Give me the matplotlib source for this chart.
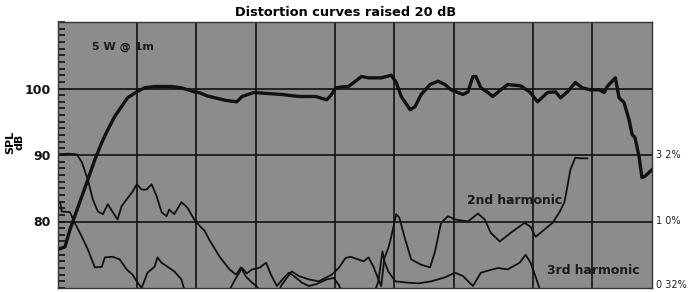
import matplotlib
matplotlib.use("Agg")
import matplotlib.pyplot as plt
import matplotlib.ticker as ticker
import matplotlib.transforms as mtransforms

# ---------------------------------------------------------------------------
# Data (frequency in Hz, level in dB)
# ---------------------------------------------------------------------------
SPL_F = [20, 21.7, 23, 24.3, 26.4, 28.3, 30.7, 33.3, 35.7, 38.7, 41.9, 44.9,
         50, 54.7, 61.5, 74.8, 84, 97.5, 103, 113, 141, 160, 170, 195, 270,
         329, 400, 455, 482, 505, 566, 586, 636, 682, 740, 858, 964, 1022,
         1083, 1202, 1273, 1365, 1514, 1662, 1801, 1932, 2220, 2352, 2492,
         2580, 2734, 2964, 3140, 3446, 3734, 4344, 4820, 5286, 5932, 6516,
         6900, 7480, 8200, 8900, 9750, 10820, 11480, 11880, 12580, 13060,
         13640, 14440, 15320, 15860, 16420, 17200, 17800, 18440, 20000]
SPL_DB = [75.8, 76.2, 78.8, 80.8, 83.8, 86.3, 89.3, 91.9, 93.8, 95.8, 97.3, 98.6,
          99.5, 100.1, 100.3, 100.3, 100.1, 99.5, 99.4, 98.9, 98.2, 98.0, 98.8, 99.4, 99.1,
          98.8, 98.8, 98.3, 99.1, 100.1, 100.3, 100.3, 101.1, 101.8, 101.6, 101.6, 102.0, 100.9,
          98.8, 96.8, 97.3, 99.1, 100.6, 101.1, 100.6, 99.8, 99.1, 99.5, 101.8,
          101.8, 100.1, 99.4, 98.8, 99.8, 100.6, 100.4, 99.5, 98.0, 99.4, 99.5,
          98.6, 99.5, 100.9, 100.1, 99.8, 99.8, 99.4, 100.3, 101.1, 101.6,
          98.6, 97.9, 95.3, 93.1, 92.6, 89.8, 86.6, 86.8, 87.8]

H2_F = [20, 22.5, 24.9, 26.4, 28.3, 30, 31.8, 33.7, 35.7, 37.8, 40, 41.9, 44.4,
        47.6, 50, 52.9, 56, 59.4, 63, 66.7, 70.7, 72.9, 77.3, 84, 90, 97.5,
        105, 110, 116, 131, 147, 158.6, 168, 178, 191, 202, 219, 255, 270,
        303, 329, 369, 414, 482, 523, 566, 600, 658, 698, 740, 784, 830, 858,
        890, 932, 964, 1022, 1058, 1134, 1216, 1365, 1514, 1604, 1720, 1866,
        2023, 2352, 2640, 2860, 3066, 3406, 3868, 4548, 4874, 5166, 5470,
        6292, 6820, 7220, 7480, 7740, 8200, 8700, 9420]
H2_DB = [90.1, 90.2, 90.1, 88.9, 86.3, 83.3, 81.5, 81.1, 82.6, 81.4, 80.3, 82.3, 83.3,
         84.5, 85.6, 84.8, 84.8, 85.6, 83.8, 81.4, 80.8, 81.8, 81.1, 82.9, 82.1, 80.3,
         79.2, 78.6, 77.3, 74.7, 72.8, 72.0, 73.1, 71.7, 70.8, 70.2, 69.0, 69.0, 70.5,
         72.5, 71.8, 71.3, 71.0, 72.0, 73.0, 74.5, 74.7, 74.3, 74.0, 74.6, 73.2, 71.3, 70.3,
         74.5, 76.0, 77.7, 81.1, 80.6, 77.3, 74.3, 73.5, 73.1, 75.5, 79.8, 80.8,
         80.3, 80.0, 81.2, 80.3, 78.3, 77.0, 78.3, 79.8, 79.2, 77.7, 78.3,
         79.8, 81.4, 82.9, 85.3, 87.8, 89.6, 89.5, 89.5]

H3_F = [20.5, 20.9, 23, 24.3, 26.4, 28.3, 30.7, 33.3, 34.5, 37.8, 41, 44.4, 47.6,
        50.5, 52.9, 56.6, 61.5, 63.6, 66.7, 71.4, 77.3, 84, 86.4, 97.5, 143,
        155, 170, 180, 191, 207, 225, 238, 255, 276, 293, 311, 341, 369, 405,
        455, 494, 523, 554, 784, 830, 870, 890, 932, 1010, 1174, 1322, 1532,
        1801, 2023, 2220, 2492, 2734, 2964, 3328, 3734, 4290, 4600, 4874,
        5166, 5470]
H3_DB = [82.9, 81.5, 81.4, 79.8, 77.7, 75.8, 73.1, 73.2, 74.6, 74.7, 74.3, 72.8, 72.0,
         70.8, 70.0, 72.3, 73.2, 74.6, 73.8, 73.2, 72.5, 71.3, 70.0, 69.0, 69.0,
         71.0, 73.0, 72.2, 72.8, 73.0, 73.8, 72.0, 70.3, 71.5, 72.3, 71.8, 70.8, 70.3, 70.6,
         71.3, 71.5, 70.5, 69.0, 69.0, 71.0, 75.5, 74.0, 72.5, 71.0, 70.8, 70.7, 71.0,
         71.6, 72.3, 71.8, 70.3, 72.3, 72.6, 73.0, 72.8, 73.8, 75.0, 73.8,
         71.7, 69.5]

GRID_F = [50, 100, 200, 500, 1000, 2000, 5000, 10000]
LEFT_TICKS = [80, 90, 100]
RIGHT_TICKS = [70.4, 80, 90]
RIGHT_LABELS = ["0 32%", "1 0%", "3 2%"]

# ---------------------------------------------------------------------------
# Style
# ---------------------------------------------------------------------------
plt.rcParams.update({
    "font.family": ["DejaVu Sans"],
    "font.weight": "bold",
})
BG = "#8c8c8c"
INK = "#111111"

fig = plt.figure(figsize=(6.89, 2.92), dpi=100)
ax = fig.add_axes([58 / 689, 4 / 292, (652 - 58) / 689, (288 - 22) / 292])
ax.set_facecolor(BG)

ax.semilogx(H3_F, H3_DB, color=INK, lw=1.3, solid_joinstyle="round")
ax.semilogx(H2_F, H2_DB, color=INK, lw=1.3, solid_joinstyle="round")
ax.semilogx(SPL_F, SPL_DB, color=INK, lw=2.4, solid_joinstyle="round")

ax.set_xlim(20, 20000)
ax.set_ylim(70, 110)

# frequency grid, no labels
ax.xaxis.set_major_locator(ticker.FixedLocator(GRID_F))
ax.xaxis.set_minor_locator(ticker.NullLocator())
ax.xaxis.set_major_formatter(ticker.NullFormatter())
ax.tick_params(axis="x", length=0)

# level axis: labels left, 1 dB minor ticks inside
ax.yaxis.set_major_locator(ticker.FixedLocator(LEFT_TICKS))
ax.yaxis.set_minor_locator(ticker.MultipleLocator(1))
ax.tick_params(axis="y", which="major", direction="in", length=5, width=1.2,
               labelsize=9, pad=5, colors=INK)
ax.tick_params(axis="y", which="minor", direction="in", length=5, width=1.2,
               color=INK)
ax.grid(True, which="major", color=INK, lw=1.2)

for s in ax.spines.values():
    s.set_color("#333333")
    s.set_linewidth(1.0)

# right-hand distortion percentages
right = mtransforms.blended_transform_factory(ax.transAxes, ax.transData)
for yv, lab in zip(RIGHT_TICKS, RIGHT_LABELS):
    ax.text(1.006, yv, lab, transform=right, ha="left", va="center",
            fontsize=7, fontweight="normal", color="#222222", clip_on=False)

fig.text(15 / 689, 1 - 142 / 292, "SPL\ndB", rotation=90, ha="center",
         va="center", fontsize=8, linespacing=0.95)
fig.text(346 / 689, 1 - 12 / 292, "Distortion curves raised 20 dB",
         ha="center", va="center", fontsize=9.3)

ax.text(92 / 689, 1 - 47 / 292, "5 W @ 1m", transform=fig.transFigure,
        ha="left", va="center", fontsize=8, color="#1a1a1a")
ax.text(515 / 689, 1 - 201 / 292, "2nd harmonic", transform=fig.transFigure,
        ha="center", va="center", fontsize=8.9, color="#1a1a1a")
ax.text(593 / 689, 1 - 271 / 292, "3rd harmonic", transform=fig.transFigure,
        ha="center", va="center", fontsize=8.9, color="#1a1a1a")

fig.savefig("out.png", dpi=100, facecolor="white")
